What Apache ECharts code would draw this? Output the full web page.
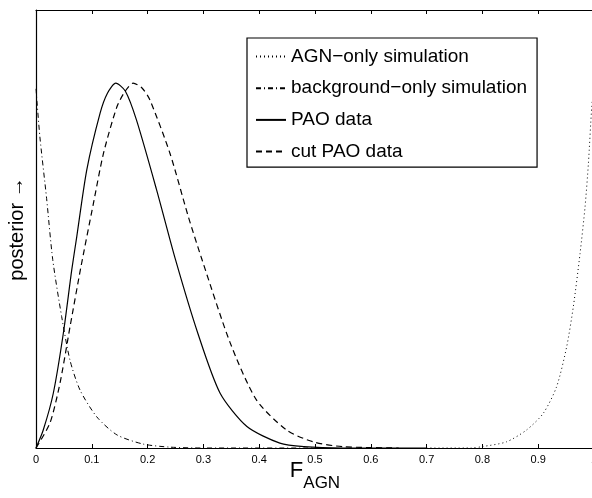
<!DOCTYPE html>
<html>
<head>
<meta charset="utf-8">
<script src="https://cdn.jsdelivr.net/npm/echarts@6/dist/echarts.min.js"></script>
<style>
  html, body { margin: 0; padding: 0; background: #fff; }
  #chart { width: 592px; height: 498px; }
</style>
</head>
<body>
<div id="chart"></div>
<script>
// values (x = F_AGN, y = posterior, normalised to the axis height)
var agnX = [0.70, 0.78, 0.799, 0.843, 0.879, 0.909, 0.933, 0.951, 0.963, 0.975, 0.984, 0.99, 0.996, 1.0];
var agnY = [0, 0, 0.003, 0.014, 0.041, 0.079, 0.14, 0.231, 0.323, 0.444, 0.551, 0.65, 0.779, 0.83];

var bgX = [0, 0.007, 0.019, 0.03, 0.046, 0.061, 0.079, 0.109, 0.145, 0.192, 0.24, 0.3, 0.5];
var bgY = [0.82, 0.71, 0.57, 0.43, 0.30, 0.20, 0.132, 0.071, 0.030, 0.009, 0.002, 0, 0];

var paoX = [0, 0.013, 0.031, 0.049, 0.064, 0.073, 0.091, 0.115, 0.128, 0.143, 0.16, 0.18, 0.216, 0.25, 0.29, 0.33, 0.378, 0.437, 0.48, 0.55, 0.7];
var paoY = [0, 0.041, 0.125, 0.262, 0.406, 0.482, 0.635, 0.765, 0.81, 0.833, 0.815, 0.749, 0.59, 0.43, 0.262, 0.125, 0.049, 0.011, 0.003, 0, 0];

var cutX = [0, 0.025, 0.043, 0.061, 0.08, 0.103, 0.121, 0.145, 0.16, 0.174, 0.19, 0.204, 0.24, 0.273, 0.297, 0.348, 0.395, 0.449, 0.497, 0.55, 0.65];
var cutY = [0, 0.057, 0.148, 0.277, 0.41, 0.559, 0.673, 0.779, 0.815, 0.833, 0.822, 0.795, 0.673, 0.528, 0.432, 0.24, 0.11, 0.041, 0.014, 0.003, 0];

var names = ['AGN\u2212only simulation', 'background\u2212only simulation', 'PAO data', 'cut PAO data'];

function pairs(xs, ys) {
    return xs.map(function (x, i) { return [x, ys[i]]; });
}

var font = 'Liberation Sans, Arial, Helvetica, sans-serif';
var chart = echarts.init(document.getElementById('chart'));

function curve(name, xs, ys, type, width) {
    return {
        name: name,
        type: 'line',
        data: pairs(xs, ys),
        symbol: 'none',
        smooth: 0.25,
        lineStyle: { color: '#000', width: width, type: type },
        itemStyle: { color: '#000' }
    };
}

chart.setOption({
    animation: false,
    textStyle: { fontFamily: font, color: '#000' },
    grid: { left: 36, top: 10, right: -2, bottom: 50, outerBoundsMode: 'none', containLabel: false },
    legend: {
        orient: 'vertical',
        left: 247,
        top: 38,
        data: names,
        backgroundColor: '#fff',
        borderColor: '#000',
        borderWidth: 1.2,
        padding: [9, 10, 6, 8],
        itemGap: 12.7,
        itemWidth: 30,
        itemHeight: 14,
        itemStyle: { opacity: 0 },
        textStyle: { fontSize: 19, color: '#000', fontFamily: font }
    },
    xAxis: [{
        type: 'value',
        min: 0,
        max: 1,
        interval: 0.1,
        position: 'bottom',
        name: '{f|F}{s|AGN}',
        nameLocation: 'middle',
        nameGap: 12,
        nameMoveOverlap: false,
        nameTextStyle: {
            rich: {
                f: { fontSize: 22, fontFamily: font, color: '#000', verticalAlign: 'top', lineHeight: 32 },
                s: { fontSize: 17, fontFamily: font, color: '#000', verticalAlign: 'bottom', lineHeight: 32 }
            }
        },
        axisLine: { lineStyle: { color: '#000', width: 1.2 } },
        axisTick: { inside: true, length: 4, lineStyle: { color: '#000' } },
        axisLabel: {
            fontSize: 11, color: '#000', margin: 6,
            showMinLabel: true, showMaxLabel: true, hideOverlap: false,
            formatter: function (v) { return String(+v.toFixed(1)); }
        },
        splitLine: { show: false }
    }, {
        type: 'value',
        min: 0,
        max: 1,
        interval: 0.1,
        position: 'top',
        axisLine: { lineStyle: { color: '#000', width: 1.2 } },
        axisTick: { inside: true, length: 4, lineStyle: { color: '#000' } },
        axisLabel: { show: false },
        splitLine: { show: false }
    }],
    yAxis: {
        type: 'value',
        min: 0,
        max: 1,
        name: 'posterior \u2192',
        nameLocation: 'middle',
        nameGap: 9,
        nameTextStyle: { fontSize: 20, color: '#000', fontFamily: font },
        axisLine: { show: true, lineStyle: { color: '#000', width: 1.2 } },
        axisTick: { show: false },
        axisLabel: { show: false },
        splitLine: { show: false }
    },
    series: [
        curve(names[0], agnX, agnY, [1, 3], 1),
        curve(names[1], bgX, bgY, [5, 3, 1, 3], 1),
        curve(names[2], paoX, paoY, 'solid', 1.2),
        curve(names[3], cutX, cutY, [6, 4], 1.2)
    ]
});
</script>
</body>
</html>
